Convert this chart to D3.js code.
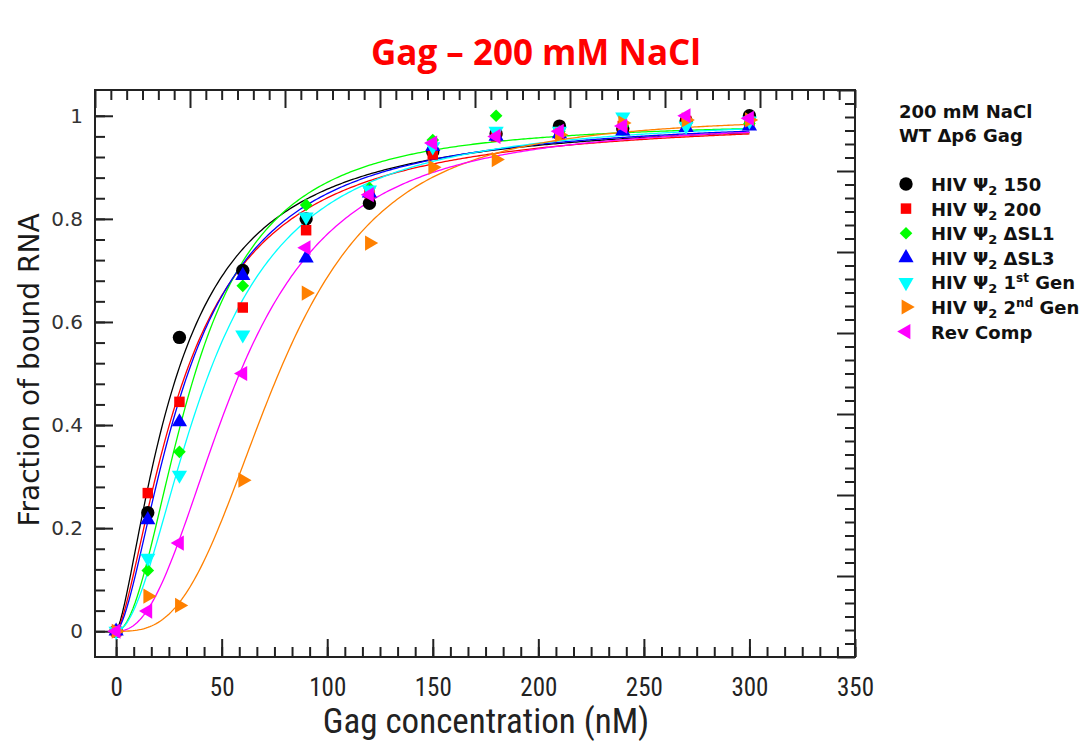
<!DOCTYPE html>
<html><head><meta charset="utf-8">
<script src="https://cdn.jsdelivr.net/npm/d3@7"></script>
<style>
html,body{margin:0;padding:0;background:#fff;}
svg{display:block;}
</style></head>
<body>
<svg id="chart" width="1089" height="741"></svg>
<script>
// ---------- data ----------
const concentrations = [0, 15, 30, 60, 90, 120, 150, 180, 210, 240, 270, 300];
const seriesNames = ["HIV Ψ2 150", "HIV Ψ2 200", "HIV Ψ2 ΔSL1", "HIV Ψ2 ΔSL3", "HIV Ψ2 1st Gen", "HIV Ψ2 2nd Gen", "Rev Comp"];
const seriesColors = ["#000000", "#ff0000", "#00ff00", "#0000ff", "#00ffff", "#ff8000", "#ff00ff"];
const seriesShapes = ["circle", "square", "diamond", "triUp", "triDown", "triRight", "triLeft"];
const wt150   = [0, 0.23, 0.57, 0.70, 0.80, 0.83, 0.93, 0.965, 0.98, 0.975, 0.99, 1.0];
const wt200   = [0, 0.268, 0.445, 0.628, 0.778, 0.85, 0.925, 0.96, 0.965, 0.98, 0.99, 0.99];
const dSL1    = [0, 0.118, 0.348, 0.67, 0.827, 0.86, 0.953, 1.0, 0.97, 0.98, 0.985, 0.985];
const dSL3    = [0, 0.216, 0.406, 0.69, 0.724, 0.85, 0.94, 0.96, 0.965, 0.97, 0.977, 0.98];
const gen1    = [0, 0.142, 0.303, 0.575, 0.804, 0.856, 0.94, 0.97, 0.97, 0.998, 0.98, 0.99];
const gen2    = [0, 0.068, 0.05, 0.293, 0.656, 0.753, 0.90, 0.915, 0.963, 0.986, 0.992, 0.992];
const revComp = [0, 0.039, 0.171, 0.50, 0.744, 0.847, 0.947, 0.96, 0.97, 0.98, 1.0, 0.995];
const seriesValues = [wt150, wt200, dSL1, dSL3, gen1, gen2, revComp];
// Hill fit parameters of the drawn fit curves
const fitKd   = [29, 33, 37, 34, 44, 77, 58];
const fitHill = [1.45, 1.5, 2.0, 1.6, 1.9, 3.0, 2.3];
const fitBmax = [1.0, 1.0, 0.99, 1.0, 1.0, 1.0, 0.99];
const xTickLabels = [0, 50, 100, 150, 200, 250, 300, 350];
const yTickLabels = [0, 0.2, 0.4, 0.6, 0.8, 1];
const titleText = "Gag – 200 mM NaCl";
const legendHeader = ["200 mM NaCl", "WT Δp6 Gag"];

// ---------- layout ----------
const svg = d3.select("#chart");
const L = 95, R = 855, T = 90, B = 657;
const x = d3.scaleLinear().domain([-10, 350]).range([L, R]);
const y = d3.scaleLinear().domain([-0.05, 1.05]).range([B, T]);
const xTop = d3.scaleLinear().domain([0, 48]).range([L, R]);
const yRight = d3.scaleLinear().domain([0, 42]).range([B, T]);
const MAJ = 18, MIN = 10;

// title
svg.append("text").attr("x", 536).attr("y", 65).attr("text-anchor", "middle")
  .attr("font-family", "'Open Sans', sans-serif").attr("font-weight", "bold")
  .attr("font-size", 35).attr("fill", "#ff0000").text(titleText);

// axes
function styleAxis(g){ g.select(".domain").remove(); g.selectAll("line").attr("stroke","#222").attr("stroke-width",2); }

const xMinor = d3.range(0, 43).map(i => i * 50 / 6);
svg.append("g").attr("transform", `translate(0,${B})`)
  .call(d3.axisBottom(x).tickValues(xMinor).tickSize(-MIN).tickFormat(""))
  .call(styleAxis);
svg.append("g").attr("transform", `translate(0,${B})`)
  .call(d3.axisBottom(x).tickValues(xTickLabels).tickSize(-MAJ).tickPadding(21).tickFormat(d3.format("d")))
  .call(styleAxis)
  .call(g => g.selectAll("text").attr("font-family","'Liberation Sans Narrow','Roboto Condensed',sans-serif")
     .attr("font-size", 25).attr("fill","#222"));

const yMinor = d3.range(0, 26).map(i => i * 0.04);
svg.append("g").attr("transform", `translate(${L},0)`)
  .call(d3.axisLeft(y).tickValues(yMinor).tickSize(-MIN).tickFormat(""))
  .call(styleAxis);
svg.append("g").attr("transform", `translate(${L},0)`)
  .call(d3.axisLeft(y).tickValues(yTickLabels).tickSize(-MAJ).tickPadding(12).tickFormat(d => d3.format("~g")(d)))
  .call(styleAxis)
  .call(g => g.selectAll("text").attr("font-family","'DejaVu Sans',Verdana,sans-serif")
     .attr("font-size", 20).attr("fill","#333"));

svg.append("g").attr("transform", `translate(0,${T})`)
  .call(d3.axisTop(xTop).tickValues(d3.range(0, 49)).tickSize(-MIN).tickFormat(""))
  .call(styleAxis)
  .call(g => g.selectAll(".tick line").filter(d => d % 6 === 0).attr("y2", MAJ));
svg.append("g").attr("transform", `translate(${R},0)`)
  .call(d3.axisRight(yRight).tickValues(d3.range(0, 43)).tickSize(-MIN).tickFormat(""))
  .call(styleAxis)
  .call(g => g.selectAll(".tick line").filter(d => d % 6 === 0).attr("x2", -MAJ));

// frame
svg.append("rect").attr("x", L).attr("y", T).attr("width", R - L).attr("height", B - T)
  .attr("fill", "none").attr("stroke", "#222").attr("stroke-width", 2);

// axis titles
svg.append("text").attr("transform", `translate(39,370) rotate(-90)`).attr("text-anchor","middle")
  .attr("font-family","'DejaVu Sans',Verdana,sans-serif").attr("font-size", 28).attr("fill","#1a1a1a")
  .text("Fraction of bound RNA");
svg.append("text").attr("x", 486).attr("y", 733).attr("text-anchor","middle")
  .attr("font-family","'Liberation Sans Narrow','Roboto Condensed',sans-serif").attr("font-size", 35).attr("fill","#222")
  .text("Gag concentration (nM)");

// fit curves
const fitX = d3.range(0, 300.5, 1);
const line = d3.line().x(d => x(d[0])).y(d => y(d[1]));
const plot = svg.append("g");
seriesNames.forEach((name, i) => {
  const pts = fitX.map(c => [c, fitBmax[i] * Math.pow(c, fitHill[i]) / (Math.pow(fitKd[i], fitHill[i]) + Math.pow(c, fitHill[i]))]);
  plot.append("path").attr("d", line(pts)).attr("fill","none")
    .attr("stroke", seriesColors[i]).attr("stroke-width", 1.3);
});

// markers
function symbolPath(shape){
  switch(shape){
    case "circle": return { d: d3.symbol().type(d3.symbolCircle).size(140)(), rot: 0 };
    case "square": return { d: d3.symbol().type(d3.symbolSquare).size(110)(), rot: 0 };
    case "diamond": return { d: d3.symbol().type(d3.symbolSquare).size(80)(), rot: 45 };
    case "triUp": return { d: d3.symbol().type(d3.symbolTriangle).size(100)(), rot: 0 };
    case "triDown": return { d: d3.symbol().type(d3.symbolTriangle).size(100)(), rot: 180 };
    case "triRight": return { d: d3.symbol().type(d3.symbolTriangle).size(100)(), rot: 90 };
    case "triLeft": return { d: d3.symbol().type(d3.symbolTriangle).size(100)(), rot: -90 };
  }
}
seriesNames.forEach((name, i) => {
  const s = symbolPath(seriesShapes[i]);
  plot.append("g").selectAll("path").data(concentrations.map((c, j) => [c, seriesValues[i][j]]))
    .join("path").attr("d", s.d)
    .attr("transform", d => `translate(${x(d[0])},${y(d[1])}) rotate(${s.rot})`)
    .attr("fill", seriesColors[i]);
});

// legend
const lg = svg.append("g").attr("font-family","'DejaVu Sans',sans-serif")
  .attr("font-weight","bold").attr("font-size", 18).attr("fill","#111");
legendHeader.forEach((t, i) => lg.append("text").attr("x", 899).attr("y", 118 + i * 24).text(t));
seriesNames.forEach((name, i) => {
  const yy = 184 + i * 24.6;
  const s = symbolPath(seriesShapes[i]);
  lg.append("path").attr("d", s.d).attr("transform", `translate(906,${yy}) rotate(${s.rot})`).attr("fill", seriesColors[i]);
  const t = lg.append("text").attr("x", 931).attr("y", yy + 7);
  const m = name.match(/^(HIV Ψ)2 (.*)$/);
  if (m) {
    t.append("tspan").text(m[1]);
    t.append("tspan").attr("dy", 4).attr("font-size", 13).text("2");
    const rest = m[2];
    const sup = rest.match(/^(\d)(st|nd) (.*)$/);
    if (sup) {
      t.append("tspan").attr("dy", -4).text(" " + sup[1]);
      t.append("tspan").attr("dy", -7).attr("font-size", 12).text(sup[2]);
      t.append("tspan").attr("dy", 7).text(" " + sup[3]);
    } else {
      t.append("tspan").attr("dy", -4).text(" " + rest);
    }
  } else {
    t.text(name);
  }
});
</script>
</body></html>
